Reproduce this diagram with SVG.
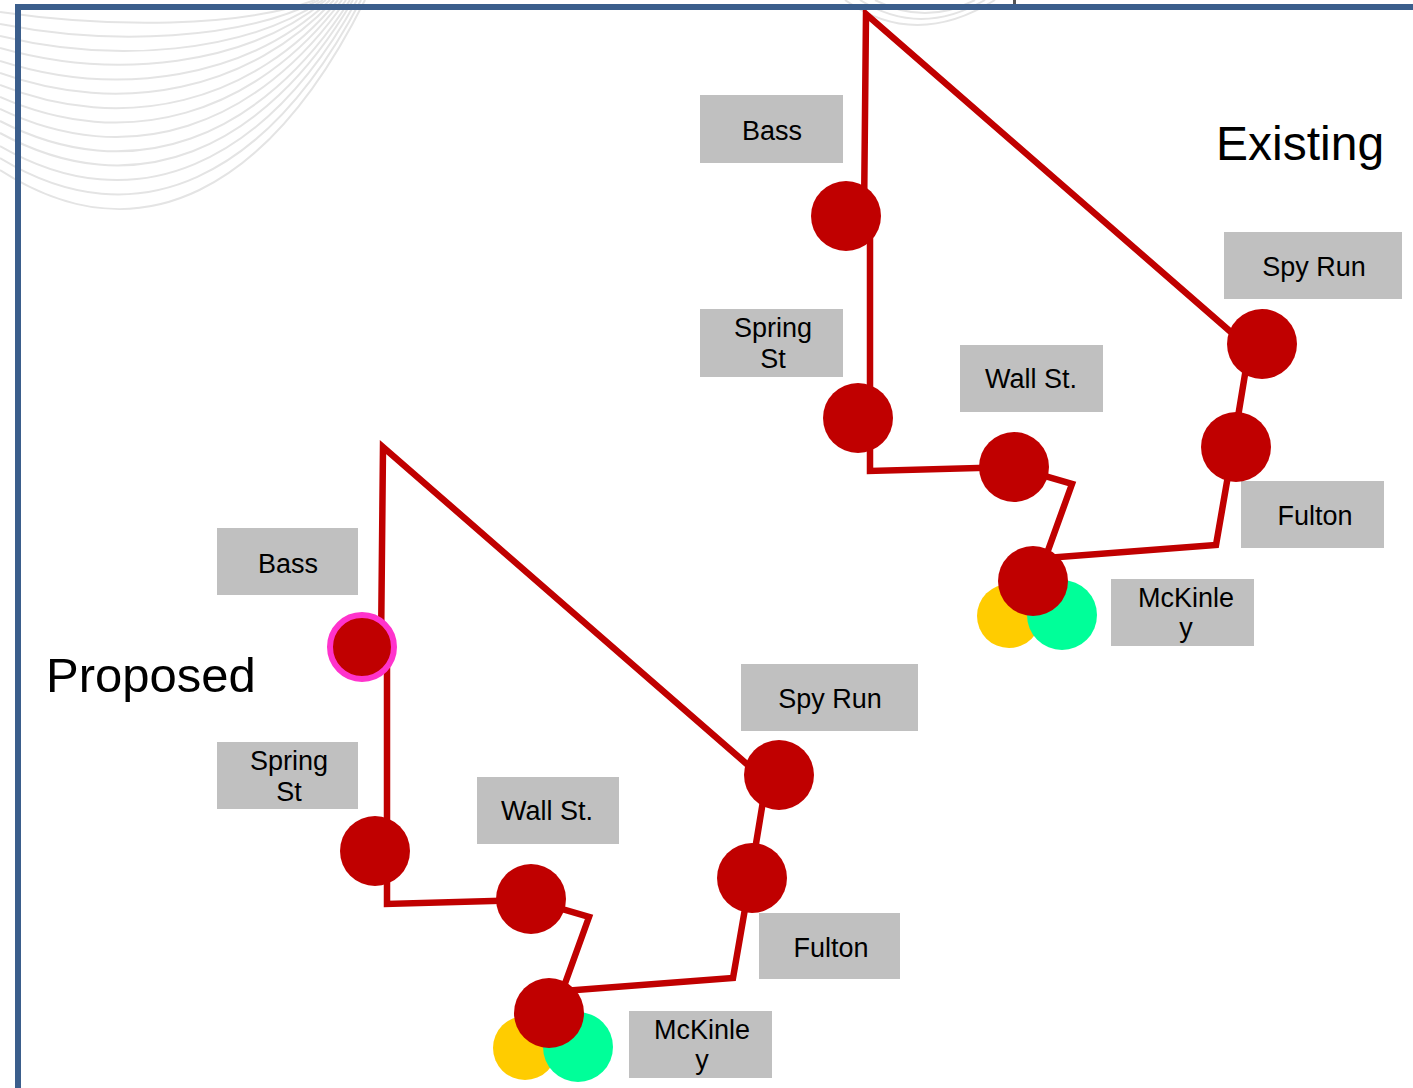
<svg xmlns="http://www.w3.org/2000/svg" width="1413" height="1088" viewBox="0 0 1413 1088">
<style>
.lbl{fill:#c0c0c0}
.t{font-family:"Liberation Sans",Arial,sans-serif;font-size:27px;fill:#000;text-anchor:middle}
.big{font-family:"Liberation Sans",Arial,sans-serif;font-size:48px;fill:#000}
.stop{fill:#c00000}
.route{fill:none;stroke:#c00000;stroke-width:6.5;stroke-linejoin:miter;stroke-miterlimit:10}
.wave{fill:none;stroke:#e4e4e4;stroke-width:2}
</style>
<rect width="1413" height="1088" fill="#fff"/>
<g id="background">
<path class="wave" d="M0,12 C110,28 240,28 315,0"/>
<path class="wave" d="M0,24 C112,46 242,40 319,0"/>
<path class="wave" d="M0,36 C115,64 245,53 323,0"/>
<path class="wave" d="M0,48 C117,81 247,65 326,0"/>
<path class="wave" d="M0,61 C119,99 249,78 330,0"/>
<path class="wave" d="M0,73 C121,117 251,90 334,0"/>
<path class="wave" d="M0,85 C124,135 254,103 338,0"/>
<path class="wave" d="M0,97 C126,153 256,115 342,0"/>
<path class="wave" d="M0,109 C128,171 258,128 346,0"/>
<path class="wave" d="M0,121 C131,189 261,140 350,0"/>
<path class="wave" d="M0,133 C133,206 263,153 353,0"/>
<path class="wave" d="M0,146 C135,224 265,165 357,0"/>
<path class="wave" d="M0,158 C138,242 268,177 361,0"/>
<path class="wave" d="M0,170 C140,260 270,190 365,0"/>
<path class="wave" d="M845,0 Q915,50 995,0"/>
<path class="wave" d="M860,0 Q920,38 985,0"/>
<path class="wave" d="M875,0 Q925,26 975,0"/>
</g>
<g id="frame">
<rect x="1013" y="0" width="3" height="6" fill="#555"/>
</g>
<g id="connectors">
<path class="route" d="M1037,581 L1072,484 L1014,467 L870,471 L870,216 L864,216 L866,14 L1232,333"/>
<path class="route" d="M1250,344 L1233,447 L1216,545 L1033,559"/>
<path class="route" d="M554,1014 L589,917 L531,900 L387,904 L387,649 L381,649 L383,447 L749,766"/>
<path class="route" d="M767,777 L750,880 L733,978 L550,992"/>
</g>
<path d="M18,1088 L18,7 L1413,7" fill="none" stroke="#3b5e8c" stroke-width="6" stroke-linejoin="miter"/>
<g id="title-existing"><text class="big" x="1216" y="160">Existing</text></g>
<g id="title-proposed"><text class="big" x="46" y="692" style="font-size:49px">Proposed</text></g>
<g id="ex-bass">
<rect class="lbl" x="700" y="95" width="143" height="68"/>
<text class="t" x="772" y="140">Bass</text>
<circle class="stop" cx="846" cy="216" r="35"/>
</g>
<g id="ex-spring">
<rect class="lbl" x="700" y="309" width="143" height="68"/>
<text class="t" x="773" y="337">Spring</text>
<text class="t" x="773" y="368">St</text>
<circle class="stop" cx="858" cy="418" r="35"/>
</g>
<g id="ex-wall">
<rect class="lbl" x="960" y="345" width="143" height="67"/>
<text class="t" x="1031" y="388">Wall St.</text>
<circle class="stop" cx="1014" cy="467" r="35"/>
</g>
<g id="ex-spyrun">
<rect class="lbl" x="1224" y="232" width="178" height="67"/>
<text class="t" x="1314" y="276">Spy Run</text>
<circle class="stop" cx="1262" cy="344" r="35"/>
</g>
<g id="ex-fulton">
<rect class="lbl" x="1241" y="481" width="143" height="67"/>
<text class="t" x="1315" y="525">Fulton</text>
<circle class="stop" cx="1236" cy="447" r="35"/>
</g>
<g id="ex-mckinley">
<rect class="lbl" x="1111" y="579" width="143" height="67"/>
<text class="t" x="1186" y="607">McKinle</text>
<text class="t" x="1186" y="637">y</text>
<circle cx="1009" cy="616" r="32" fill="#ffcc00"/>
<circle cx="1062" cy="615" r="35" fill="#00ff99"/>
<circle class="stop" cx="1033" cy="581" r="35"/>
</g>
<g id="pr-bass">
<rect class="lbl" x="217" y="528" width="141" height="67"/>
<text class="t" x="288" y="573">Bass</text>
<circle class="stop" cx="362" cy="647" r="32" stroke="#ff33cc" stroke-width="6"/>
</g>
<g id="pr-spring">
<rect class="lbl" x="217" y="742" width="141" height="67"/>
<text class="t" x="289" y="770">Spring</text>
<text class="t" x="289" y="801">St</text>
<circle class="stop" cx="375" cy="851" r="35"/>
</g>
<g id="pr-wall">
<rect class="lbl" x="477" y="777" width="142" height="67"/>
<text class="t" x="547" y="820">Wall St.</text>
<circle class="stop" cx="531" cy="899" r="35"/>
</g>
<g id="pr-spyrun">
<rect class="lbl" x="741" y="664" width="177" height="67"/>
<text class="t" x="830" y="708">Spy Run</text>
<circle class="stop" cx="779" cy="775" r="35"/>
</g>
<g id="pr-fulton">
<rect class="lbl" x="759" y="913" width="141" height="66"/>
<text class="t" x="831" y="957">Fulton</text>
<circle class="stop" cx="752" cy="878" r="35"/>
</g>
<g id="pr-mckinley">
<rect class="lbl" x="629" y="1011" width="143" height="67"/>
<text class="t" x="702" y="1039">McKinle</text>
<text class="t" x="702" y="1069">y</text>
<circle cx="525" cy="1048" r="32" fill="#ffcc00"/>
<circle cx="578" cy="1047" r="35" fill="#00ff99"/>
<circle class="stop" cx="549" cy="1013" r="35"/>
</g>
</svg>
